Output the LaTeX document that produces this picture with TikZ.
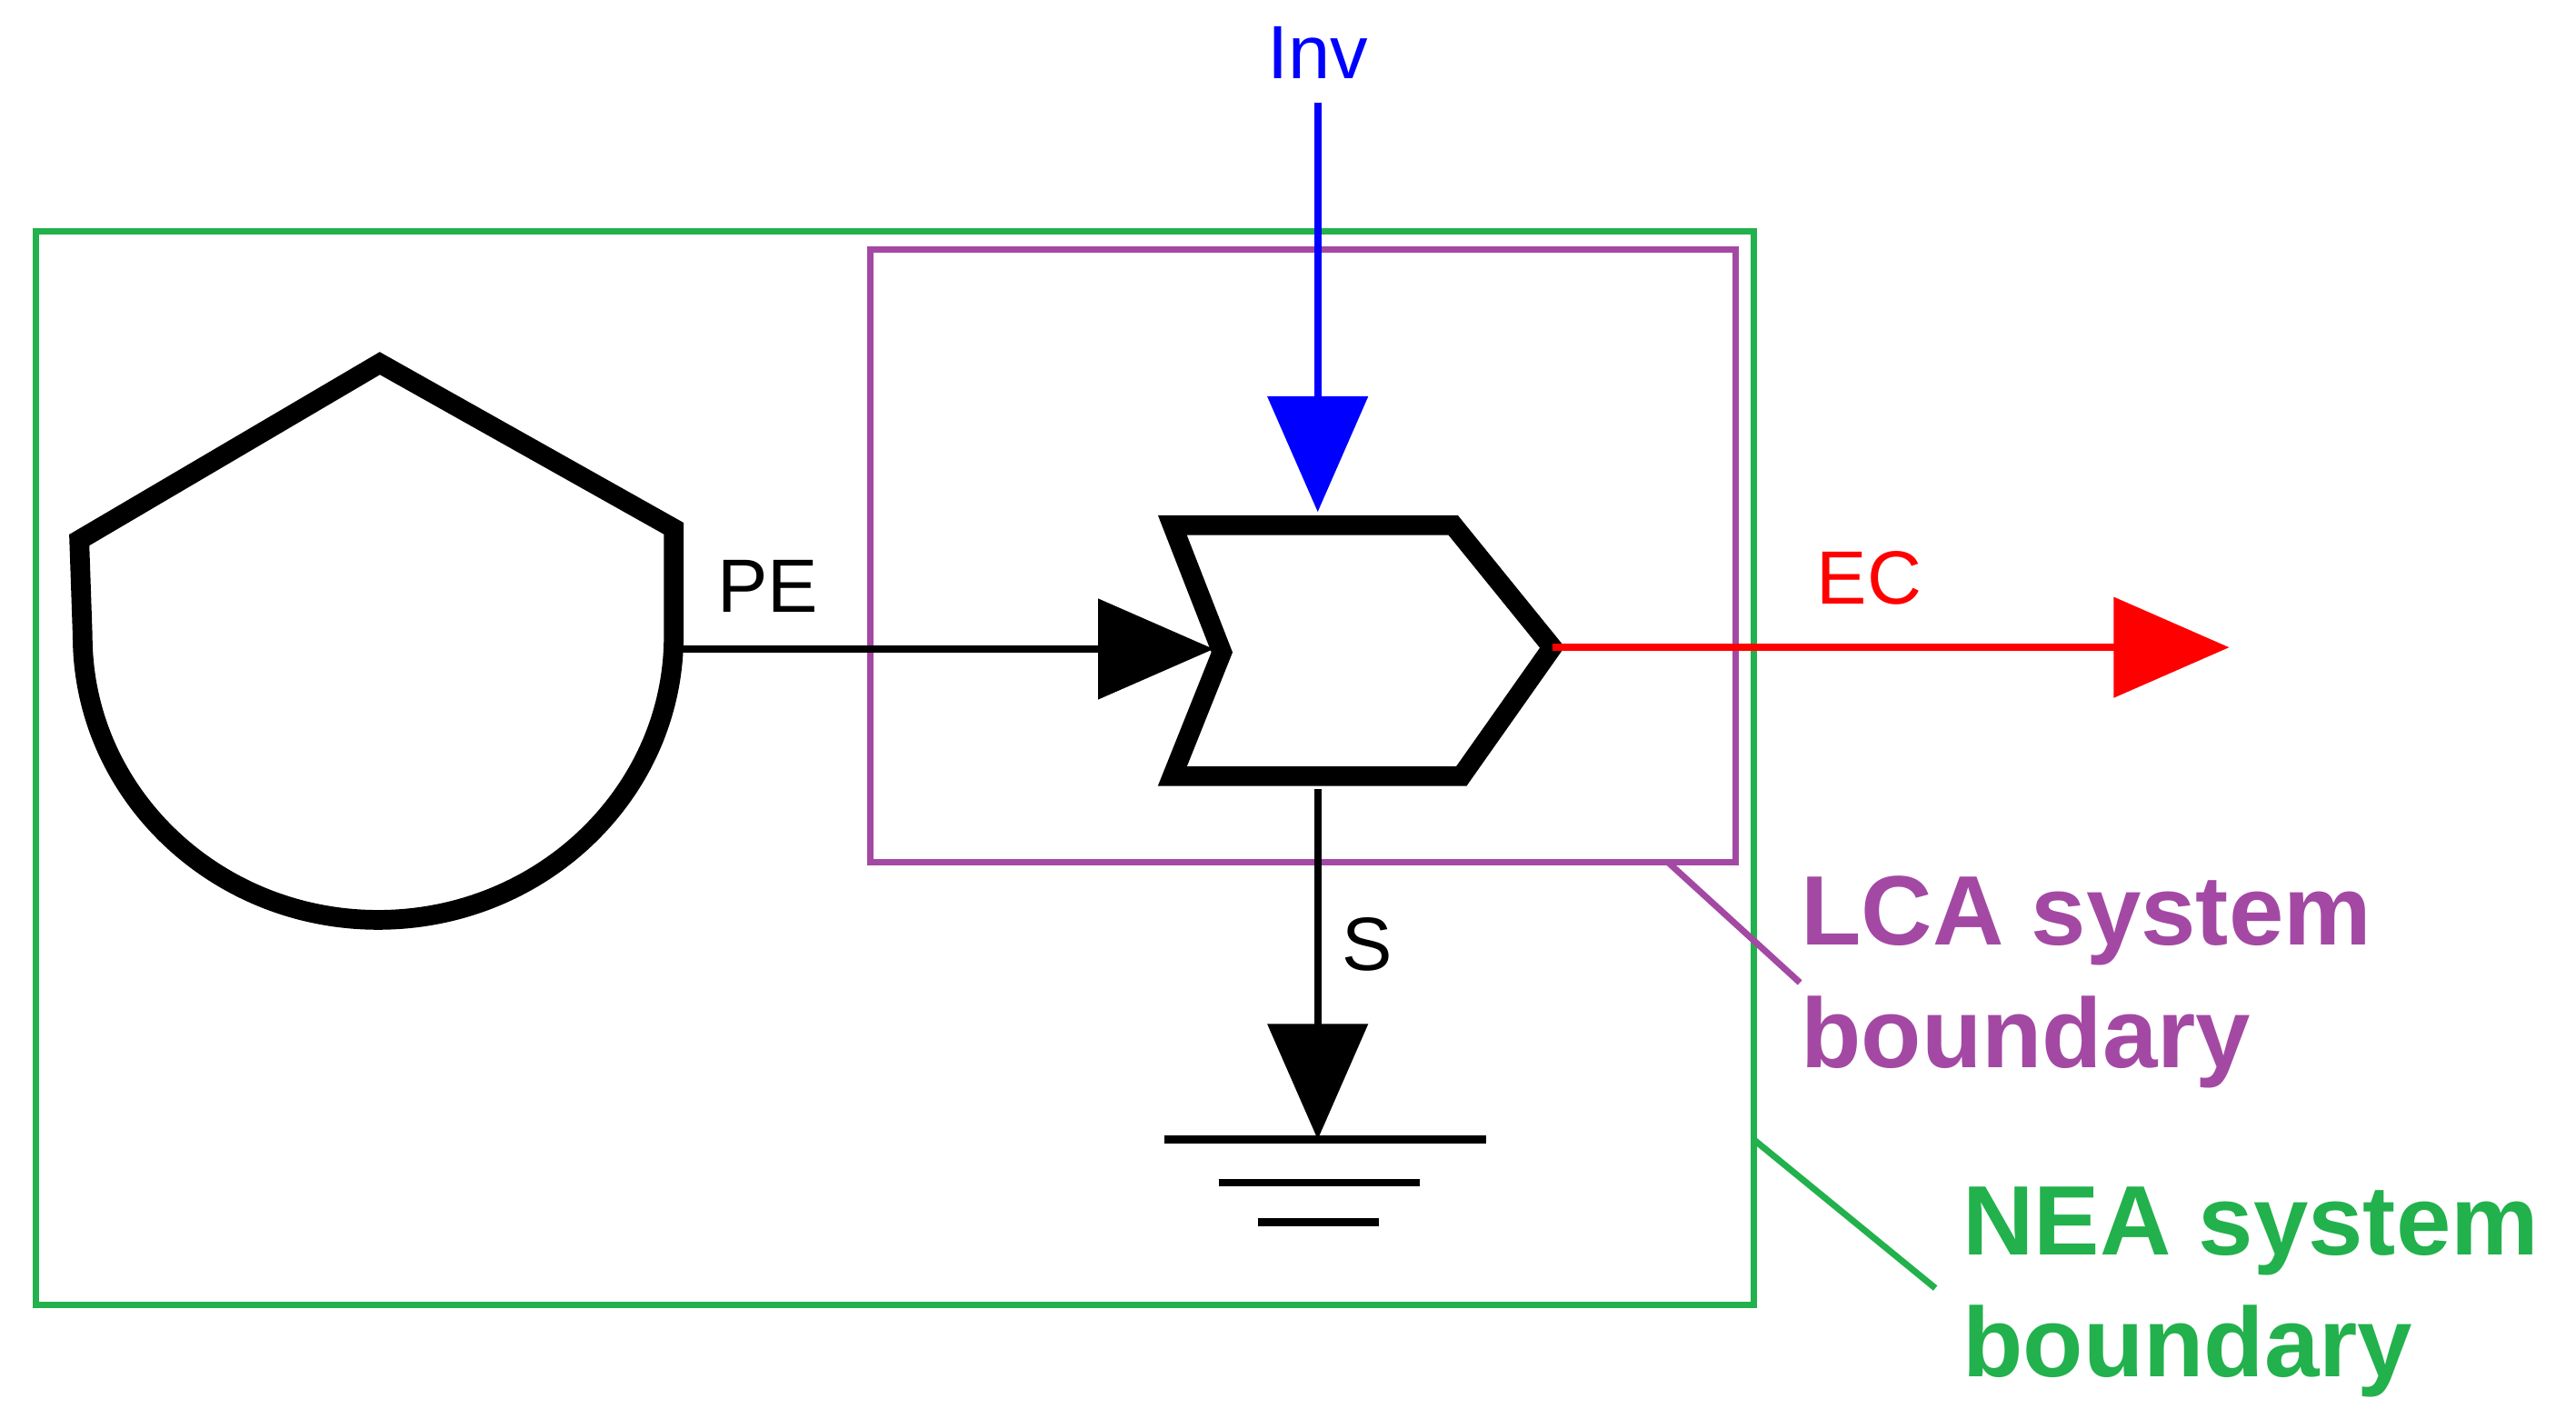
\documentclass[tikz,border=0pt]{standalone}
\usepackage{fontspec}
\setmainfont{Liberation Sans}
\usetikzlibrary{arrows.meta}
\definecolor{ngreen}{RGB}{34,177,76}
\definecolor{npurple}{RGB}{163,73,164}
\begin{document}
\begin{tikzpicture}[x=0.01cm,y=-0.01cm,
  thick shape/.style={line width=3.4pt,line join=miter},
  flow/.style={line width=1.3pt,-{Triangle[length=7mm,width=6mm]}},
  small/.style={font=\fontsize{13}{15}\selectfont,inner sep=0pt},
  big/.style={font=\bfseries\fontsize{17}{21}\selectfont,align=left,anchor=north west,inner sep=0pt}]
\useasboundingbox (0,0) rectangle (1560,859);
% boundaries
\draw[ngreen,line width=1.1pt] (22,140) rectangle (1062,790);
\draw[npurple,line width=1.1pt] (527,151) rectangle (1051,522);
% source
\draw[thick shape] (408,385) -- (408,320) -- (230,220) -- (48,327) -- (50,385)
  arc[start angle=180,end angle=360,x radius=179,y radius=-172];
% process
\draw[thick shape] (710,318) -- (880,318) -- (940,392) -- (885,470) -- (710,470) -- (740,395) -- cycle;
\coordinate (src) at (408,393);
\coordinate (pin) at (735,393);
\coordinate (ptop) at (798,310);
\coordinate (pbot) at (798,478);
\coordinate (pout) at (940,392);
\coordinate (invs) at (798,62);
\coordinate (ecend) at (1350,392);
\coordinate (gnd) at (798,690);
\draw[flow] (src) -- (pin);
\draw[flow,blue] (invs) -- (ptop);
\draw[flow,red] (pout) -- (ecend);
\draw[flow] (pbot) -- (gnd);
\draw[line width=1.3pt] (705,690) -- (900,690) (738,716) -- (860,716) (762,740) -- (835,740);
\node[small] (pe) at (465,355) {PE};
\node[small,blue] (inv) at (798,32) {Inv};
\node[small,red] (ec) at (1132,350) {EC};
\node[small] (s) at (828,572) {S};
% leaders
\coordinate (lca1) at (1010,522);
\coordinate (lca2) at (1090,595);
\coordinate (nea1) at (1062,690);
\coordinate (nea2) at (1172,780);
\draw[npurple,line width=1.1pt] (lca1) -- (lca2);
\draw[ngreen,line width=1.1pt] (nea1) -- (nea2);
\node[big,npurple] (lca) at (1090,530) {LCA system\\boundary};
\node[big,ngreen] (nea) at (1188,718) {NEA system\\boundary};
\end{tikzpicture}
\end{document}
